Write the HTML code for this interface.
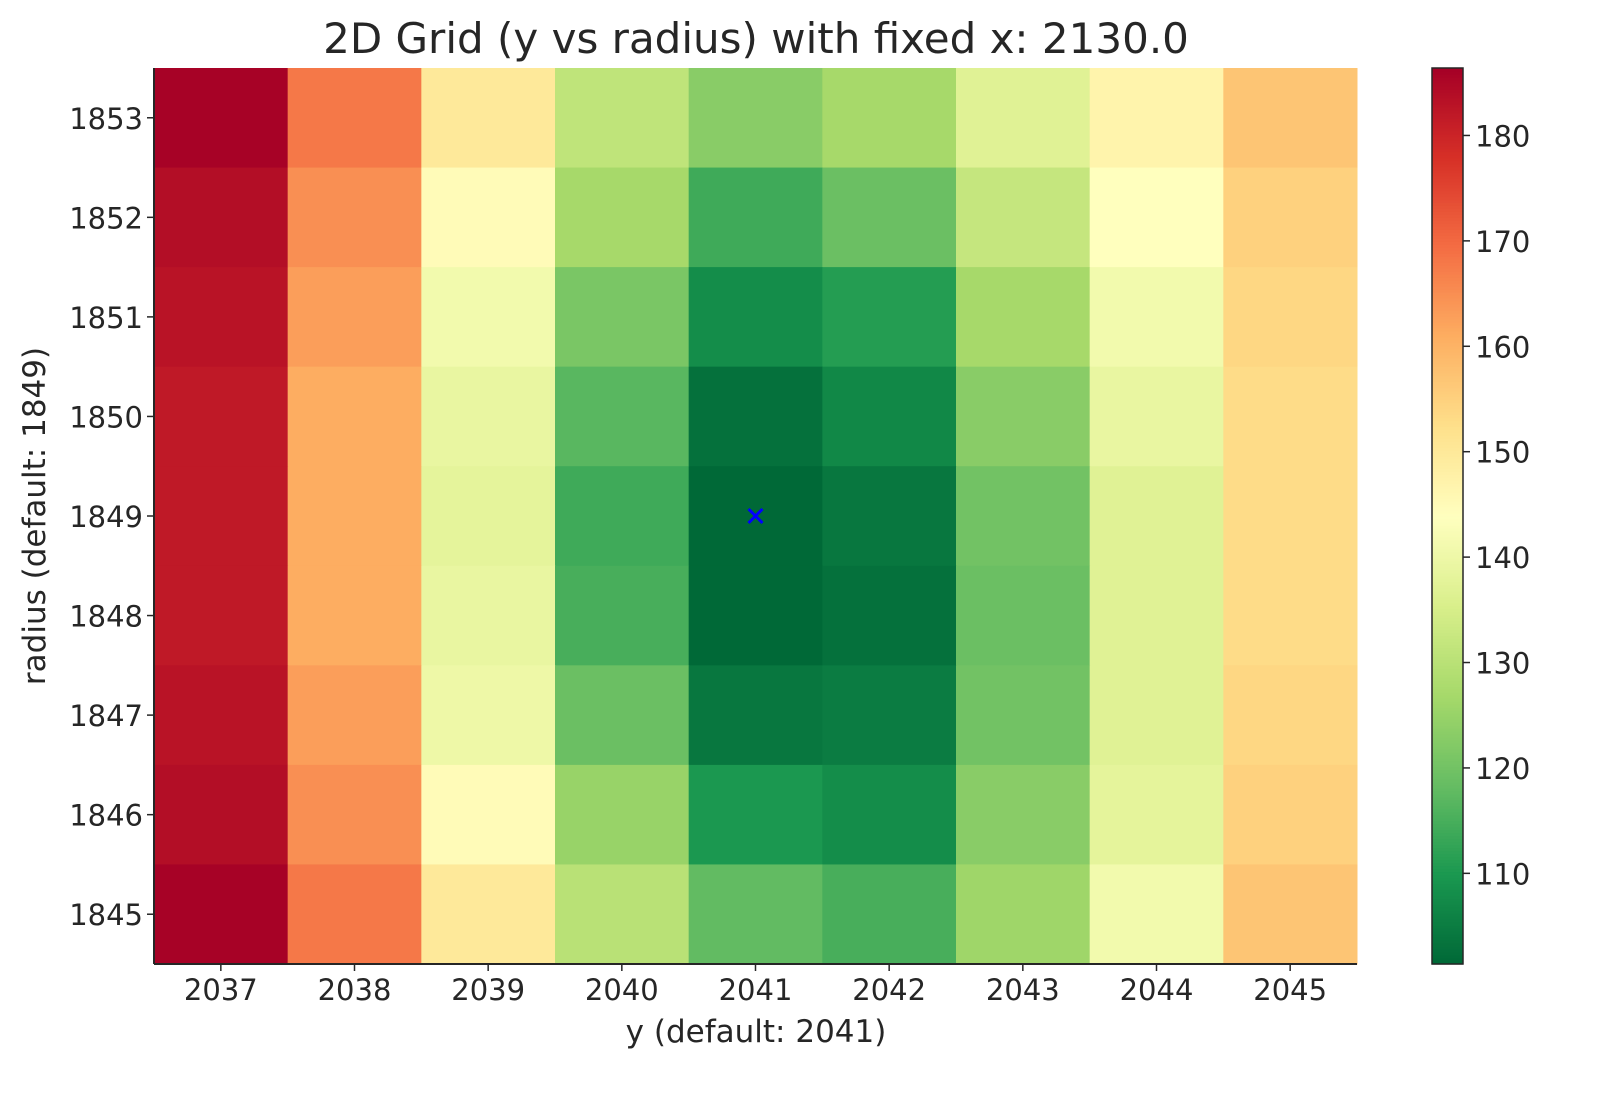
<!DOCTYPE html>
<html><head><meta charset="utf-8"><style>
body{margin:0;background:#fff;}
svg text{font-family:"DejaVu Sans","Liberation Sans",sans-serif;fill:#262626;}
</style></head><body>
<svg id="chart" width="1616" height="1101" xmlns="http://www.w3.org/2000/svg">
<text x="756" y="53" font-size="42" text-anchor="middle">2D Grid (y vs radius) with fixed x: 2130.0</text>
<text x="756" y="1042" font-size="31" text-anchor="middle">y (default: 2041)</text>
<text transform="translate(45,516) rotate(-90)" font-size="31" text-anchor="middle">radius (default: 1849)</text>
<g id="cells"></g><g id="axes"></g><g id="cbar"></g>
</svg>
<script>
const yCategories=[2037,2038,2039,2040,2041,2042,2043,2044,2045];
const radiusCategories=[1853,1852,1851,1850,1849,1848,1847,1846,1845];
const row1853=[186,168,150,131,123,127,137,147,157];
const row1852=[184,165,145,127,114,119,132,144,155];
const row1851=[183,163,141,121,108,111,127,141,154];
const row1850=[182,161,139,117,103,107,123,139,153];
const row1849=[182,161,138,114,101.5,104,120,137,153];
const row1848=[182,161,139,115,101.5,103,119,137,153];
const row1847=[183,163,140,119,104,105,120,137,154];
const row1846=[184,165,145,125,110,108,123,138,155];
const row1845=[186,168,150,130,118,115,126,141,157];
const cbTicks=[110,120,130,140,150,160,170,180];
const marker={y:2041,r:1849};
const vmin=101.4,vmax=186.4;
const rows=[row1853,row1852,row1851,row1850,row1849,row1848,row1847,row1846,row1845];
const NS="http://www.w3.org/2000/svg";
const L=154,R=1357,T=68,B=964;
const cw=(R-L)/yCategories.length, ch=(B-T)/radiusCategories.length;
const xPos=v=>L+(yCategories.indexOf(v)+0.5)*cw;
const yPos=v=>T+(radiusCategories.indexOf(v)+0.5)*ch;
const stops=["#006837","#1a9850","#66bd63","#a6d96a","#d9ef8b","#ffffbf","#fee08b","#fdae61","#f46d43","#d73027","#a50026"];
function hex(h){return [1,3,5].map(i=>parseInt(h.substr(i,2),16));}
function cmap(v){let t=Math.max(0,Math.min(1,(v-vmin)/(vmax-vmin)))*10;let i=Math.min(9,Math.floor(t));let f=t-i;
const a=hex(stops[i]),b=hex(stops[i+1]);return "rgb("+a.map((c,k)=>Math.round(c+(b[k]-c)*f)).join(",")+")";}
function el(tag,attrs,parent){const e=document.createElementNS(NS,tag);for(const k in attrs)e.setAttribute(k,attrs[k]);parent.appendChild(e);return e;}
const cells=document.getElementById('cells');
rows.forEach((row,ri)=>row.forEach((v,ci)=>{
 const r=el('rect',{x:xPos(yCategories[ci])-cw/2,y:yPos(radiusCategories[ri])-ch/2,width:cw+0.5,height:ch+0.5,fill:cmap(v)},cells);
 
 
}));
const ax=document.getElementById('axes');
el('line',{x1:L,y1:T,x2:L,y2:B,stroke:"#262626","stroke-width":2},ax);
el('line',{x1:L,y1:B,x2:R,y2:B,stroke:"#262626","stroke-width":2},ax);
yCategories.forEach(c=>{const x=xPos(c);el('line',{x1:x,y1:B,x2:x,y2:B+7,stroke:"#262626","stroke-width":1.5},ax);
 const t=el('text',{x:x,y:B+36,"font-size":29,"text-anchor":"middle"},ax);t.textContent=c;
 
 });
radiusCategories.forEach(c=>{const y=yPos(c);el('line',{x1:L-7,y1:y,x2:L,y2:y,stroke:"#262626","stroke-width":1.5},ax);
 const t=el('text',{x:L-11,y:y+11,"font-size":29,"text-anchor":"end"},ax);t.textContent=c;
 
 });
const mx=xPos(marker.y),my=yPos(marker.r);
const m=el('path',{d:`M${mx-7},${my-7}L${mx+7},${my+7}M${mx-7},${my+7}L${mx+7},${my-7}`,stroke:"#0000ff","stroke-width":3},ax);


const cb=document.getElementById('cbar');
const CL=1432,CR=1463;
const cy=v=>B-(v-vmin)/(vmax-vmin)*(B-T);
for(let i=0;i<300;i++){const v0=vmin+(vmax-vmin)*i/300,v1=vmin+(vmax-vmin)*(i+1)/300;
 el('rect',{x:CL,y:cy(v1),width:CR-CL,height:cy(v0)-cy(v1)+0.6,fill:cmap((v0+v1)/2)},cb);}
const cbo=el('rect',{x:CL,y:T,width:CR-CL,height:B-T,fill:"none",stroke:"#262626","stroke-width":1.5},cb);


cbTicks.forEach(v=>{const y=cy(v);el('line',{x1:CR,y1:y,x2:CR+7,y2:y,stroke:"#262626","stroke-width":1.5},cb);
 const t=el('text',{x:CR+12,y:y+11,"font-size":29},cb);t.textContent=v;
 
 });
</script>
</body></html>
